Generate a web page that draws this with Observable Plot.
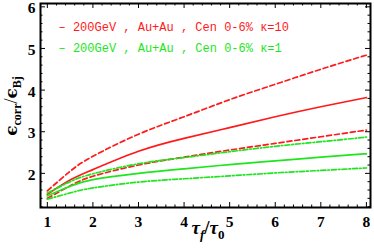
<!DOCTYPE html>
<html>
<head>
<meta charset="utf-8">
<script src="https://cdn.jsdelivr.net/npm/d3@7"></script>
<script src="https://cdn.jsdelivr.net/npm/@observablehq/plot@0.6"></script>
<style>
  html, body { margin: 0; padding: 0; background: #fff; }
  svg { display: block; }
  g[aria-label="x-axis tick label"] text, g[aria-label="y-axis tick label"] text {
    font-family: "Liberation Serif", "Times New Roman", serif !important;
    font-weight: bold !important;
    font-size: 15.5px !important;
    fill: #000 !important;
  }
</style>
</head>
<body>
<div id="chart"></div>
<script>
// ---- data ----
const tau = [1, 1.5, 2, 3, 4, 5, 6, 7, 8];
const redDashedUpper = [1.58, 2.05, 2.41, 2.94, 3.36, 3.77, 4.14, 4.50, 4.84];
const redSolid       = [1.50, 1.84, 2.09, 2.53, 2.84, 3.10, 3.36, 3.60, 3.82];
const redDashedLower = [1.40, 1.70, 1.93, 2.20, 2.39, 2.56, 2.72, 2.88, 3.04];
const greenDashDotUpper = [1.53, 1.80, 1.99, 2.23, 2.38, 2.52, 2.65, 2.76, 2.87];
const greenSolid        = [1.46, 1.69, 1.85, 2.00, 2.11, 2.21, 2.30, 2.39, 2.47];
const greenDashDotLower = [1.38, 1.53, 1.65, 1.79, 1.87, 1.94, 2.01, 2.07, 2.13];

const xTicks = [1, 2, 3, 4, 5, 6, 7, 8];
const yTicks = [2, 3, 4, 5, 6];
const legendLabels = ["– 200GeV , Au+Au , Cen 0-6% κ=10", "– 200GeV , Au+Au , Cen 0-6% κ=1"];

// ---- styles ----
const RED = "#ff1a1a";
const GREEN = "#1ee61e";
const W = 374, H = 249;
const mL = 40, mR = 4, mT = 3, mB = 42;
const plotW = W - mL - mR, plotH = H - mT - mB;
const xDomain = [0.85, 8.09], yDomain = [1.18, 6.08];

const xMinor = d3.range(0.8, 8.11, 0.2).map(v => +v.toFixed(2)).filter(v => v >= xDomain[0] && v <= xDomain[1] && !xTicks.includes(v));
const yMinor = d3.range(1.2, 6.01, 0.2).map(v => +v.toFixed(2)).filter(v => v >= yDomain[0] && v <= yDomain[1] && !yTicks.includes(v));

const series = [
  {y: redDashedUpper, stroke: RED, dash: "5,3"},
  {y: redSolid, stroke: RED, dash: null},
  {y: redDashedLower, stroke: RED, dash: "5,3"},
  {y: greenDashDotUpper, stroke: GREEN, dash: "5,2,1.6,2"},
  {y: greenSolid, stroke: GREEN, dash: null},
  {y: greenDashDotLower, stroke: GREEN, dash: "5,2,1.6,2"}
];

const lineMarks = series.map(s => Plot.line(tau.map((t, i) => ({t, v: s.y[i]})), {
  x: "t", y: "v", stroke: s.stroke, strokeWidth: 1.7, strokeDasharray: s.dash, curve: "natural"
}));

const maj = 5, minr = 2.5;

const plot = Plot.plot({
  width: W, height: H,
  marginLeft: mL, marginRight: mR, marginTop: mT, marginBottom: mB,
  x: {domain: xDomain},
  y: {domain: yDomain},
  style: {background: "#fff", overflow: "visible"},
  marks: [
    ...lineMarks,
    // ticks inside the frame on all four sides
    Plot.tickX(xTicks, {x: d => d, insetTop: plotH - maj, stroke: "#000", strokeWidth: 1}),
    Plot.tickX(xTicks, {x: d => d, insetBottom: plotH - maj, stroke: "#000", strokeWidth: 1}),
    Plot.tickX(xMinor, {x: d => d, insetTop: plotH - minr, stroke: "#000", strokeWidth: 1}),
    Plot.tickX(xMinor, {x: d => d, insetBottom: plotH - minr, stroke: "#000", strokeWidth: 1}),
    Plot.tickY(yTicks, {y: d => d, insetRight: plotW - maj, stroke: "#000", strokeWidth: 1}),
    Plot.tickY(yTicks, {y: d => d, insetLeft: plotW - maj, stroke: "#000", strokeWidth: 1}),
    Plot.tickY(yMinor, {y: d => d, insetRight: plotW - minr, stroke: "#000", strokeWidth: 1}),
    Plot.tickY(yMinor, {y: d => d, insetLeft: plotW - minr, stroke: "#000", strokeWidth: 1}),
    Plot.frame({stroke: "#000", strokeWidth: 2}),
    Plot.axisX({ticks: xTicks, tickSize: 0, tickPadding: 8, tickFormat: d => String(d), label: null}),
    Plot.axisY({ticks: yTicks, tickSize: 0, tickPadding: 5, tickFormat: d => String(d), label: null, dy: 1.5}),
    // legend inside the frame
    Plot.text([legendLabels[0]], {text: d => d, frameAnchor: "top-left", dx: 18, dy: 24, textAnchor: "start", lineAnchor: "middle",
      fill: RED, fontFamily: "Liberation Mono, DejaVu Sans Mono, monospace", fontSize: 12}),
    Plot.text([legendLabels[1]], {text: d => d, frameAnchor: "top-left", dx: 18, dy: 45, textAnchor: "start", lineAnchor: "middle",
      fill: GREEN, fontFamily: "Liberation Mono, DejaVu Sans Mono, monospace", fontSize: 12})
  ]
});

document.getElementById("chart").appendChild(plot);

// axis titles with subscripts
const svg = d3.select(plot);
const serif = "Liberation Serif, DejaVu Serif, Times New Roman, serif";
const yt = svg.append("text")
  .attr("transform", `translate(17,106) rotate(-90)`)
  .attr("text-anchor", "middle")
  .attr("font-family", serif)
  .attr("font-size", 18)
  .attr("fill", "#000");
yt.append("tspan").attr("font-family", "DejaVu Serif").attr("font-weight", "bold").attr("font-size", 17).text("ϵ");
yt.append("tspan").attr("font-size", 12).attr("font-weight", "bold").attr("dy", 4).text("corr");
yt.append("tspan").attr("dy", -4).text("/");
yt.append("tspan").attr("font-family", "DejaVu Serif").attr("font-weight", "bold").attr("font-size", 17).text("ϵ");
yt.append("tspan").attr("font-size", 12).attr("font-weight", "bold").attr("dy", 4).text("Bj");

const xt = svg.append("text")
  .attr("x", 208).attr("y", 234)
  .attr("text-anchor", "middle")
  .attr("font-family", serif)
  .attr("font-size", 19)
  .attr("font-weight", "bold")
  .attr("fill", "#000");
xt.append("tspan").attr("font-style", "italic").text("τ");
xt.append("tspan").attr("font-size", 13).attr("font-style", "italic").attr("dy", 5).text("f");
xt.append("tspan").attr("dy", -5).text("/");
xt.append("tspan").attr("font-style", "italic").text("τ");
xt.append("tspan").attr("font-size", 13).attr("dy", 5).text("0");
</script>
</body>
</html>
